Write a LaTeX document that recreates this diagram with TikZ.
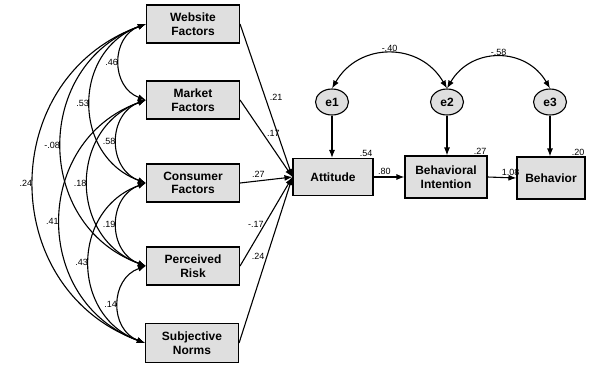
\documentclass[tikz,border=0pt]{standalone}
\usepackage{fontspec}
\setmainfont{Liberation Sans}
\usetikzlibrary{arrows.meta,shapes.geometric}

\begin{document}
\begin{tikzpicture}[x=1pt, y=-1pt,
    var/.style={draw, line width=1.1pt, fill=gray!25, minimum width=93pt, minimum height=38pt,
                align=center, inner sep=1pt, font=\bfseries\fontsize{12}{13.5}\selectfont},
    err/.style={ellipse, draw, line width=1.1pt, fill=gray!25, minimum width=33pt, minimum height=26pt,
                inner sep=0pt, font=\bfseries\fontsize{12}{13}\selectfont},
    coef/.style={font=\fontsize{9}{10}\selectfont, inner sep=1pt},
    arrow/.style={-{Latex[length=8pt,width=6pt]}, line width=1.1pt},
    cov/.style={{Latex[length=8pt,width=6pt]}-{Latex[length=8pt,width=6pt]}, line width=1.1pt}]

\useasboundingbox (0,0) rectangle (594,364);

% Exogenous variables
\node[var] (web) at (193, 24) {Website\\Factors};
\node[var] (mkt) at (193, 100) {Market\\Factors};
\node[var] (con) at (193, 183) {Consumer\\Factors};
\node[var] (risk) at (193, 266) {Perceived\\Risk};
\node[var, minimum height=39pt] (norm) at (192, 343) {Subjective\\Norms};

% Endogenous variables
\node[var, minimum width=80pt, minimum height=37pt] (att) at (333, 177) {Attitude};
\node[var, minimum width=82pt, minimum height=42pt] (bi) at (446, 177) {Behavioral\\Intention};
\node[var, minimum width=68pt, minimum height=42pt] (beh) at (551, 178) {Behavior};

% Error terms
\node[err] (e1) at (332, 102) {e1};
\node[err] (e2) at (447, 102) {e2};
\node[err] (e3) at (550, 102) {e3};

% Covariances between exogenous variables
\draw[cov] (web.west) to[bend right=70, looseness=1.27] node[coef, left] {.46} (mkt.west);
\draw[cov] (web.west) to[bend right=70, looseness=1.27] node[coef, left] {.53} (con.west);
\draw[cov] (web.west) to[bend right=70, looseness=1.27] node[coef, left] {-.08} (risk.west);
\draw[cov] (web.west) to[bend right=70, looseness=1.27] node[coef, left] {.24} (norm.west);
\draw[cov] (mkt.west) to[bend right=70, looseness=1.27] node[coef, left] {.58} (con.west);
\draw[cov] (mkt.west) to[bend right=70, looseness=1.27] node[coef, left] {.18} (risk.west);
\draw[cov] (mkt.west) to[bend right=70, looseness=1.27] node[coef, left] {.41} (norm.west);
\draw[cov] (con.west) to[bend right=70, looseness=1.27] node[coef, left] {.19} (risk.west);
\draw[cov] (con.west) to[bend right=70, looseness=1.27] node[coef, left] {.43} (norm.west);
\draw[cov] (risk.west) to[bend right=70, looseness=1.27] node[coef, left] {.14} (norm.west);

% Paths to Attitude
\draw[arrow] (web.east) -- node[coef, pos=0.48, right=3pt] {.21} (att.west);
\draw[arrow] (mkt.east) -- node[coef, pos=0.43, right=3pt] {.17} (att.west);
\draw[arrow] (con.east) -- node[coef, pos=0.35, above=2pt] {.27} (att.west);
\draw[arrow] (risk.east) -- node[coef, pos=0.3, above=10pt] {-.17} (att.west);
\draw[arrow] (norm.east) -- node[coef, pos=0.52, left=1pt] {.24} (att.west);

% Attitude -> Intention -> Behavior
\draw[arrow] (att.east) -- node[coef, pos=0.35, above=1pt] {.80} (bi.west);
\draw[arrow] (bi.east) -- node[coef, pos=0.8, above=1pt] {1.08} (beh.west);

% Error terms
\draw[arrow] (e1.south) -- (e1.south |- att.north);
\draw[arrow] (e2.south) -- (e2.south |- bi.north);
\draw[arrow] (e3.south) -- (e3.south |- beh.north);
\draw[cov] (e1.north) to[bend left=60, looseness=1.2] node[coef, above] {-.40} (e2.north);
\draw[cov] (e2.north) to[bend left=60, looseness=1.2] node[coef, above] {-.58} (e3.north);

% Squared multiple correlations
\node[coef, anchor=south east] (r1) at (att.north east) {.54};
\node[coef, anchor=south east] (r2) at (bi.north east) {.27};
\node[coef, anchor=south east] (r3) at (beh.north east) {.20};

\end{tikzpicture}
\end{document}
